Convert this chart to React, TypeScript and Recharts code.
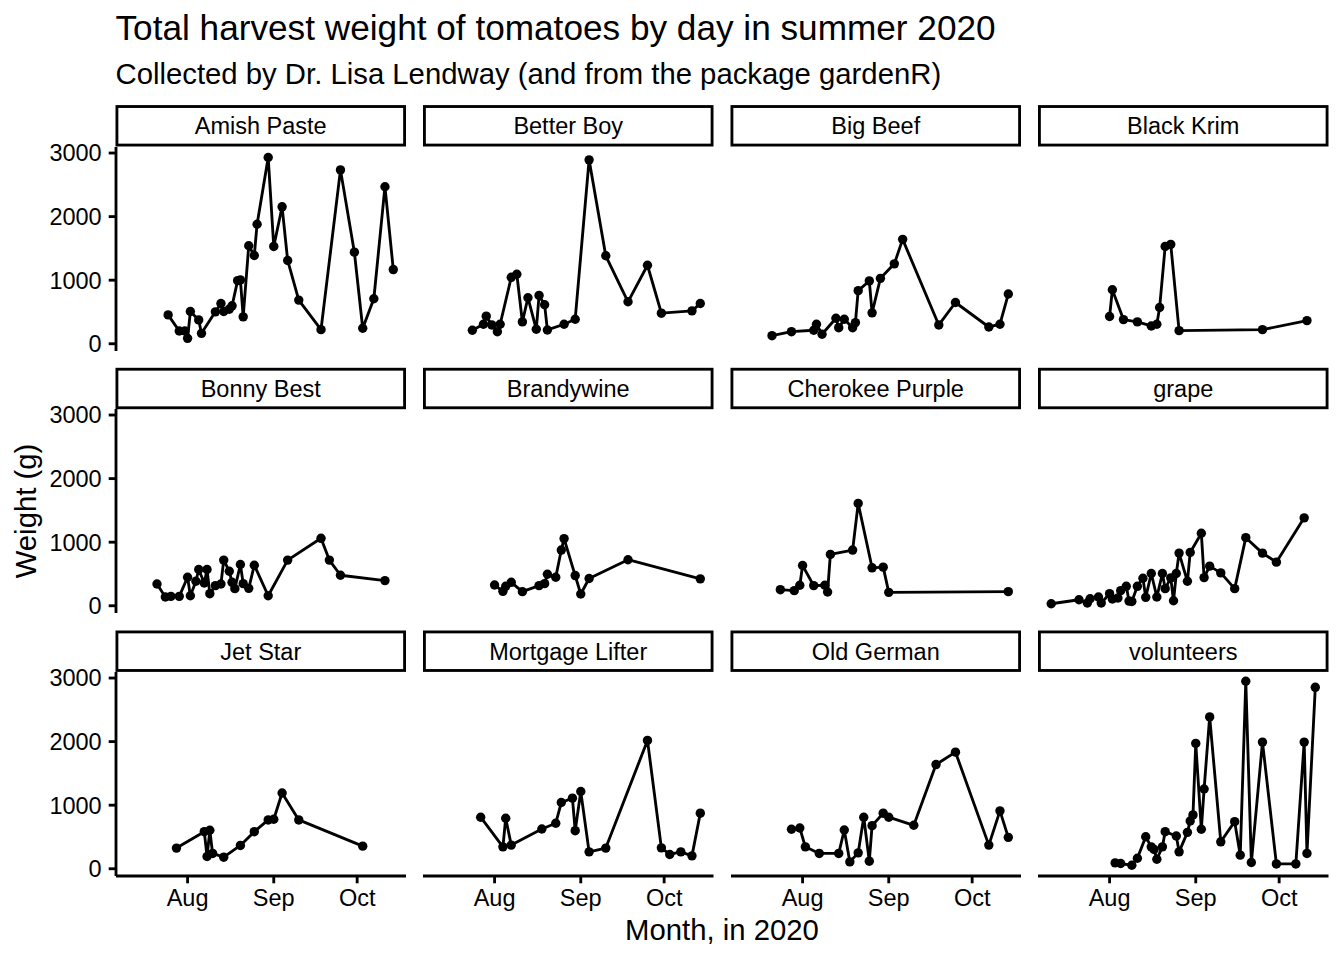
import { LineChart, Line, XAxis, YAxis } from 'recharts';

const FONT = '"Liberation Sans", Arial, Helvetica, sans-serif';

// harvest dates (month-day, 2020) and total weight (g) per variety
const amishPasteDates = ['07-25', '07-29', '07-31', '08-01', '08-02', '08-05', '08-06', '08-11', '08-13', '08-14', '08-16', '08-17', '08-19', '08-20', '08-21', '08-23', '08-25', '08-26', '08-30', '09-01', '09-04', '09-06', '09-10', '09-18', '09-25', '09-30', '10-03', '10-07', '10-11', '10-14'];
const amishPasteWeights = [454, 201, 201, 85, 507, 375, 164, 502, 634, 507, 544, 597, 993, 1004, 423, 1542, 1389, 1880, 2930, 1531, 2154, 1310, 687, 222, 2735, 1441, 244, 708, 2470, 1167];

const betterBoyDates = ['07-24', '07-28', '07-29', '07-31', '08-02', '08-03', '08-07', '08-09', '08-11', '08-13', '08-16', '08-17', '08-19', '08-20', '08-26', '08-30', '09-04', '09-10', '09-18', '09-25', '09-30', '10-11', '10-14'];
const betterBoyWeights = [212, 307, 434, 296, 190, 307, 1045, 1093, 344, 724, 228, 760, 613, 217, 307, 386, 2893, 1384, 660, 1235, 481, 518, 634];

const bigBeefDates = ['07-21', '07-28', '08-05', '08-06', '08-08', '08-13', '08-14', '08-16', '08-19', '08-20', '08-21', '08-25', '08-26', '08-29', '09-03', '09-06', '09-19', '09-25', '10-07', '10-11', '10-14'];
const bigBeefWeights = [127, 190, 212, 307, 149, 402, 253, 386, 253, 333, 835, 988, 486, 1029, 1257, 1642, 296, 649, 264, 307, 782];

const blackKrimDates = ['08-01', '08-02', '08-06', '08-11', '08-16', '08-18', '08-19', '08-21', '08-23', '08-26', '09-25', '10-11'];
const blackKrimWeights = [428, 850, 380, 344, 280, 307, 570, 1531, 1563, 206, 222, 364];

const bonnyBestDates = ['07-21', '07-24', '07-26', '07-29', '08-01', '08-02', '08-04', '08-05', '08-07', '08-08', '08-09', '08-11', '08-13', '08-14', '08-16', '08-17', '08-18', '08-20', '08-21', '08-23', '08-25', '08-30', '09-06', '09-18', '09-21', '09-25', '10-11'];
const bonnyBestWeights = [343, 138, 148, 148, 449, 158, 385, 570, 359, 570, 190, 317, 343, 718, 543, 369, 269, 649, 348, 274, 638, 158, 718, 1061, 718, 480, 396];

const brandywineDates = ['08-01', '08-04', '08-05', '08-07', '08-11', '08-17', '08-19', '08-20', '08-23', '08-25', '08-26', '08-30', '09-01', '09-04', '09-18', '10-14'];
const brandywineWeights = [327, 227, 306, 369, 222, 317, 348, 496, 449, 876, 1056, 475, 185, 428, 724, 423];

const cherokeePurpleDates = ['07-24', '07-29', '07-31', '08-01', '08-05', '08-09', '08-10', '08-11', '08-19', '08-21', '08-26', '08-30', '09-01', '10-14'];
const cherokeePurpleWeights = [253, 238, 322, 633, 317, 322, 217, 808, 876, 1610, 597, 607, 211, 222];

const grapeDates = ['07-11', '07-21', '07-24', '07-25', '07-28', '07-29', '08-01', '08-02', '08-04', '08-05', '08-07', '08-08', '08-09', '08-11', '08-13', '08-14', '08-16', '08-18', '08-20', '08-21', '08-23', '08-24', '08-25', '08-26', '08-29', '08-30', '09-03', '09-04', '09-06', '09-10', '09-15', '09-19', '09-25', '09-30', '10-10'];
const grapeWeights = [32, 95, 43, 111, 138, 43, 190, 106, 122, 238, 306, 74, 68, 306, 432, 132, 507, 138, 507, 269, 438, 79, 507, 828, 385, 839, 1140, 443, 623, 517, 269, 1071, 828, 686, 1383];

const jetStarDates = ['07-28', '08-07', '08-08', '08-09', '08-10', '08-14', '08-20', '08-25', '08-30', '09-01', '09-04', '09-10', '10-03'];
const jetStarWeights = [325, 583, 193, 605, 241, 182, 367, 583, 768, 779, 1191, 768, 356];

const mortgageLifterDates = ['07-27', '08-04', '08-05', '08-07', '08-18', '08-23', '08-25', '08-29', '08-30', '09-01', '09-04', '09-10', '09-25', '09-30', '10-03', '10-07', '10-11', '10-14'];
const mortgageLifterWeights = [811, 345, 795, 372, 625, 716, 1042, 1111, 599, 1216, 266, 325, 2019, 329, 225, 266, 203, 874];

const oldGermanDates = ['07-28', '07-31', '08-02', '08-07', '08-14', '08-16', '08-18', '08-21', '08-23', '08-25', '08-26', '08-30', '09-01', '09-10', '09-18', '09-25', '10-07', '10-11', '10-14'];
const oldGermanWeights = [621, 641, 345, 241, 241, 610, 108, 250, 811, 119, 678, 874, 811, 684, 1639, 1834, 372, 911, 494];

const volunteersDates = ['08-03', '08-05', '08-09', '08-11', '08-14', '08-16', '08-17', '08-18', '08-20', '08-21', '08-25', '08-26', '08-29', '08-30', '08-31', '09-01', '09-03', '09-04', '09-06', '09-10', '09-15', '09-17', '09-19', '09-21', '09-25', '09-30', '10-07', '10-10', '10-11', '10-14'];
const volunteersWeights = [92, 82, 55, 166, 504, 345, 304, 150, 345, 583, 515, 266, 573, 752, 847, 1972, 621, 1254, 2388, 424, 741, 214, 2949, 98, 1992, 76, 76, 1992, 241, 2854];

const weightTicks = [0, 1000, 2000, 3000];
const monthTicks = ['08-01', '09-01', '10-01'];
const monthNames = ['Jan', 'Feb', 'Mar', 'Apr', 'May', 'Jun', 'Jul', 'Aug', 'Sep', 'Oct', 'Nov', 'Dec'];

function toTime(md: string) {
  const [m, d] = md.split('-').map(Number);
  return Date.UTC(2020, m - 1, d);
}

const panels = [
  { name: 'Amish Paste', dates: amishPasteDates, weights: amishPasteWeights },
  { name: 'Better Boy', dates: betterBoyDates, weights: betterBoyWeights },
  { name: 'Big Beef', dates: bigBeefDates, weights: bigBeefWeights },
  { name: 'Black Krim', dates: blackKrimDates, weights: blackKrimWeights },
  { name: 'Bonny Best', dates: bonnyBestDates, weights: bonnyBestWeights },
  { name: 'Brandywine', dates: brandywineDates, weights: brandywineWeights },
  { name: 'Cherokee Purple', dates: cherokeePurpleDates, weights: cherokeePurpleWeights },
  { name: 'grape', dates: grapeDates, weights: grapeWeights },
  { name: 'Jet Star', dates: jetStarDates, weights: jetStarWeights },
  { name: 'Mortgage Lifter', dates: mortgageLifterDates, weights: mortgageLifterWeights },
  { name: 'Old German', dates: oldGermanDates, weights: oldGermanWeights },
  { name: 'volunteers', dates: volunteersDates, weights: volunteersWeights },
].map(p => ({
  name: p.name,
  data: p.dates.map((d, i) => ({ t: toTime(d), weight: p.weights[i] })),
}));

// ggplot style 5% expansion on both scales, shared across facets
function expand(values: number[]): [number, number] {
  const min = Math.min(...values);
  const max = Math.max(...values);
  const pad = (max - min) * 0.05;
  return [min - pad, max + pad];
}
const xDomain = expand(panels.flatMap(p => p.data.map(d => d.t)));
const yDomain = expand(panels.flatMap(p => p.data.map(d => d.weight)));
const xTicks = monthTicks.map(toTime);

// layout (px)
const PANEL_LEFT = 115.5;
const COL_STEP = 307.5;
const PANEL_W = 290.5;
const PANEL_TOP = 146.5;
const ROW_STEP = 262.7;
const PANEL_H = 204;
const STRIP_H = 41.4;
const Y_AXIS_W = 90;
const X_AXIS_H = 50;
const PAD = 14; // room so edge tick labels are not cut off
const LINE_W = 2.85;

const axisStyle = { stroke: '#000', strokeWidth: LINE_W };
const tickStyle = { fill: '#000', fontSize: 23.5, fontFamily: FONT };

function Panel({ data, col, row }: { data: { t: number; weight: number }[]; col: number; row: number }) {
  const showY = col === 0;
  const showX = row === 2;
  const left = PANEL_LEFT + col * COL_STEP - (showY ? Y_AXIS_W : 0);
  const top = PANEL_TOP + row * ROW_STEP - PAD;
  return (
    <div style={{ position: 'absolute', left, top }}>
      <LineChart
        width={PANEL_W + (showY ? Y_AXIS_W : 0)}
        height={PANEL_H + 2 * PAD + (showX ? X_AXIS_H : 0)}
        data={data}
        margin={{ top: PAD, right: 0, bottom: PAD, left: 0 }}
      >
        <XAxis
          type="number"
          dataKey="t"
          domain={xDomain}
          ticks={xTicks}
          interval={0}
          tickFormatter={(t: number) => monthNames[new Date(t).getUTCMonth()]}
          hide={!showX}
          height={X_AXIS_H}
          axisLine={axisStyle}
          tickLine={axisStyle}
          tickSize={7.3}
          tickMargin={6}
          tick={tickStyle}
        />
        <YAxis
          type="number"
          domain={yDomain}
          ticks={weightTicks}
          interval={0}
          hide={!showY}
          width={Y_AXIS_W}
          axisLine={axisStyle}
          tickLine={axisStyle}
          tickSize={7.3}
          tickMargin={7}
          tick={tickStyle}
        />
        <Line
          type="linear"
          dataKey="weight"
          stroke="#000"
          strokeWidth={LINE_W}
          strokeLinejoin="round"
          dot={{ r: 4.7, fill: '#000', stroke: '#000', strokeWidth: 0 }}
          activeDot={false}
          isAnimationActive={false}
        />
      </LineChart>
    </div>
  );
}

export default function App() {
  return (
    <div style={{ position: 'absolute', left: 0, top: 0, width: 1344, height: 960, background: '#fff', fontFamily: FONT }}>
      {panels.map((p, i) => (
        <Panel key={p.name} data={p.data} col={i % 4} row={Math.floor(i / 4)} />
      ))}
      <svg width={1344} height={960} style={{ position: 'absolute', left: 0, top: 0, pointerEvents: 'none' }} fontFamily={FONT}>
        <text x={PANEL_LEFT} y={40} fontSize={35.2} fill="#000">Total harvest weight of tomatoes by day in summer 2020</text>
        <text x={PANEL_LEFT} y={84} fontSize={29.3} fill="#000">Collected by Dr. Lisa Lendway (and from the package gardenR)</text>
        {panels.map((p, i) => {
          const x = PANEL_LEFT + (i % 4) * COL_STEP;
          const y = PANEL_TOP + Math.floor(i / 4) * ROW_STEP - STRIP_H;
          return (
            <g key={p.name}>
              <rect
                x={x + LINE_W / 2}
                y={y + LINE_W / 2}
                width={PANEL_W - LINE_W}
                height={STRIP_H - LINE_W}
                fill="#fff"
                stroke="#000"
                strokeWidth={LINE_W}
              />
              <text x={x + PANEL_W / 2} y={y + STRIP_H / 2 + 8.4} textAnchor="middle" fontSize={23.5} fill="#000">
                {p.name}
              </text>
            </g>
          );
        })}
        <text transform="translate(36, 511) rotate(-90)" textAnchor="middle" fontSize={29.3} fill="#000">Weight (g)</text>
        <text x={722} y={940} textAnchor="middle" fontSize={29.3} fill="#000">Month, in 2020</text>
      </svg>
    </div>
  );
}
